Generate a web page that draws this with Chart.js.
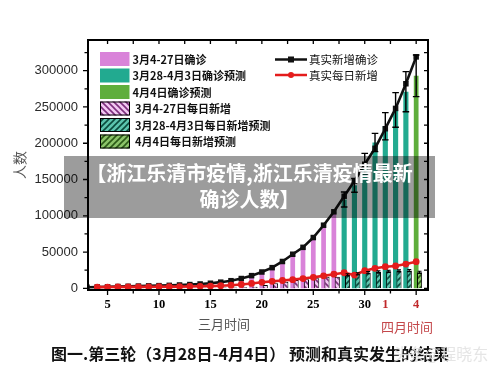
<!DOCTYPE html>
<html>
<head>
<meta charset="utf-8">
<title>第三轮预测和真实发生的结果</title>
<script src="https://cdn.jsdelivr.net/npm/chart.js@4.4.1/dist/chart.umd.min.js"></script>
<style>
  html, body { margin:0; padding:0; background:#fff; }
  #wrap { position:relative; width:500px; height:376px; overflow:hidden; background:#fff; }
  #c { position:absolute; left:0; top:0; }
  .txt { position:absolute; white-space:nowrap; font-family:"Noto Sans CJK SC","Noto Sans",sans-serif; }
  #banner { left:64px; top:156px; width:371px; height:62px; background:rgba(0,0,0,0.39); color:#fff; font-weight:700; font-size:20px; line-height:26px; text-align:center; padding-top:4px; box-sizing:border-box; }
  #xMar { left:198px; top:314px; font-size:13px; line-height:20px; color:#555; }
  #xApr { left:381px; top:317px; font-size:13px; line-height:20px; color:#c4474a; }
  #caption { left:0; width:500px; top:342px; text-align:center; font-size:16px; line-height:22px; font-weight:700; color:#111; }
  #mark { left:393px; top:342px; font-size:16px; line-height:22px; color:rgba(225,225,225,0.88); }
</style>
</head>
<body>
<div id="wrap">
  <canvas id="c" width="500" height="376"></canvas>
  <div class="txt" id="xMar">三月时间</div>
  <div class="txt" id="xApr">四月时间</div>
  <div class="txt" id="caption">图一.第三轮（3月28日-4月4日） 预测和真实发生的结果</div>
  <div class="txt" id="mark">头条@程晓东</div>
  <div class="txt" id="banner">【浙江乐清市疫情,浙江乐清疫情最新<br>确诊人数】</div>
</div>
<script>
// ---- data (x = day; March 3..31, then April 1..4 as 32..35) ----
const days = [3,4,5,6,7,8,9,10,11,12,13,14,15,16,17,18,19,20,21,22,23,24,25,26,27,28,29,30,31,32,33,34,35];
const realCumulative = [1500,1900,2200,2500,2800,3100,3400,3700,4100,4600,5200,6000,7000,8500,10500,13500,17500,22500,28500,37000,47000,56500,70000,87000,105500,127000,148000,171000,193000,220000,248000,282000,319000];
const realDaily = [null,1700,1800,1900,2000,2000,2100,2200,2300,2400,2600,2800,3100,3600,4300,5300,6700,8300,9600,10800,12000,13500,15200,17200,19500,21500,18300,24300,27600,29800,30800,33500,36700];
const confirmedMar = [null,1900,2200,2500,2800,3100,3400,3700,4100,4600,5200,6000,7000,8500,10500,13500,17500,22500,28500,37000,47000,56500,70000,87000,105500,null,null,null,null,null,null,null,null];
const predictedCum = [null,null,null,null,null,null,null,null,null,null,null,null,null,null,null,null,null,null,null,null,null,null,null,null,null,122500,142000,172000,201000,223400,245900,271100,null];
const predictedCumErr = [null,null,null,null,null,null,null,null,null,null,null,null,null,null,null,null,null,null,null,null,null,null,null,null,null,10300,9500,14000,12600,18800,23900,27600,null];
const predictedApr4 = [null,null,null,null,null,null,null,null,null,null,null,null,null,null,null,null,null,null,null,null,null,null,null,null,null,null,null,null,null,null,null,null,293000];
const predictedApr4Err = [null,null,null,null,null,null,null,null,null,null,null,null,null,null,null,null,null,null,null,null,null,null,null,null,null,null,null,null,null,null,null,null,28700];
const dailyMar = [null,200,200,250,300,300,350,400,450,500,600,700,800,1000,1200,1500,2200,4500,6900,9200,11400,12400,13800,16000,16000,null,null,null,null,null,null,null,null];
const dailyPred = [null,null,null,null,null,null,null,null,null,null,null,null,null,null,null,null,null,null,null,null,null,null,null,null,null,18500,20000,21500,22500,23500,24000,24500,null];
const dailyPredErr = [null,null,null,null,null,null,null,null,null,null,null,null,null,null,null,null,null,null,null,null,null,null,null,null,null,1500,1500,1500,1500,1500,1500,1500,null];
const dailyApr4 = [null,null,null,null,null,null,null,null,null,null,null,null,null,null,null,null,null,null,null,null,null,null,null,null,null,null,null,null,null,null,null,null,22000];
const dailyApr4Err = [null,null,null,null,null,null,null,null,null,null,null,null,null,null,null,null,null,null,null,null,null,null,null,null,null,null,null,null,null,null,null,null,1500];
const seriesNames = ['3月4-27日确诊','3月28-4月3日确诊预测','4月4日确诊预测','3月4-27日每日新增','3月28-4月3日每日新增预测','4月4日每日新增预测','真实新增确诊','真实每日新增'];
const xTickValues = [5,10,15,20,25,30,32,35];
const xTickLabels = ['5','10','15','20','25','30','1','4'];
const xTickMarks = [5,7.5,10,12.5,15,17.5,20,22.5,25,27.5,30,32.5,35];
const yTickValues = [0,50000,100000,150000,200000,250000,300000];
const yTickMarks = [0,25000,50000,75000,100000,125000,150000,175000,200000,225000,250000,275000,300000,325000];

// ---- styling ----
const X_MIN = 3.1, X_MAX = 36.15, HATCH_SHIFT = 0.33;
const Y_MIN = -2300, Y_MAX = 342300;
const PINK = '#d983d9', TEAL = '#22aa90', GREEN = '#5fae3c', BLACK = '#111111', RED = '#e41c1c';

const canvas = document.getElementById('c');
const mainCtx = canvas.getContext('2d');
function hatch(bg, fg, back) {
  const s = 6, c = document.createElement('canvas');
  c.width = s; c.height = s;
  const g = c.getContext('2d');
  g.fillStyle = bg; g.fillRect(0, 0, s, s);
  g.strokeStyle = fg; g.lineWidth = 1.6;
  g.beginPath();
  if (back) {
    g.moveTo(-1, -1); g.lineTo(s + 1, s + 1);
    g.moveTo(-1, s - 1); g.lineTo(1, s + 1);
    g.moveTo(s - 1, -1); g.lineTo(s + 1, 1);
  } else {
    g.moveTo(-1, s + 1); g.lineTo(s + 1, -1);
    g.moveTo(-1, 1); g.lineTo(1, -1);
    g.moveTo(s - 1, s + 1); g.lineTo(s + 1, s - 1);
  }
  g.stroke();
  return mainCtx.createPattern(c, 'repeat');
}
const PINK_HATCH = hatch('#f2c8f2', '#7d2f7d', true);
const TEAL_HATCH = hatch('#5cc4ae', '#0a4a3c', false);
const GREEN_HATCH = hatch('#8cc46a', '#2b5a17', false);

const errorBars = {
  id: 'errorBars',
  afterDatasetsDraw(chart) {
    const ctx = chart.ctx, ys = chart.scales.y;
    chart.data.datasets.forEach((ds, i) => {
      if (!ds.errors) return;
      const meta = chart.getDatasetMeta(i);
      meta.data.forEach((el, j) => {
        const v = ds.data[j], e = ds.errors[j];
        if (v == null || e == null) return;
        const x = el.x, y1 = ys.getPixelForValue(v + e), y2 = ys.getPixelForValue(v - e);
        const cap = ds.capHalf || 3;
        ctx.save();
        ctx.strokeStyle = '#000'; ctx.lineWidth = ds.errWidth || 1.4;
        ctx.beginPath();
        ctx.moveTo(x, y1); ctx.lineTo(x, y2);
        ctx.moveTo(x - cap, y1); ctx.lineTo(x + cap, y1);
        ctx.moveTo(x - cap, y2); ctx.lineTo(x + cap, y2);
        ctx.stroke();
        ctx.restore();
      });
    });
  }
};

const frame = {
  id: 'frame',
  afterDraw(chart) {
    const {ctx, chartArea: a, scales: {x, y}} = chart;
    ctx.save();
    ctx.strokeStyle = '#000';
    ctx.lineWidth = 2;
    ctx.strokeRect(a.left, a.top, a.right - a.left, a.bottom - a.top);
    ctx.lineWidth = 1.3;
    ctx.beginPath();
    yTickMarks.forEach(v => {
      const p = y.getPixelForValue(v);
      const L = (v % 50000 === 0) ? 5 : 3.5;
      ctx.moveTo(a.left - L, p); ctx.lineTo(a.left, p);
      ctx.moveTo(a.right, p); ctx.lineTo(a.right - 4, p);
    });
    xTickMarks.forEach(v => {
      const p = x.getPixelForValue(v);
      const L = (v % 5 === 0) ? 5 : 3.5;
      ctx.moveTo(p, a.bottom); ctx.lineTo(p, a.bottom + L);
      ctx.moveTo(p, a.top); ctx.lineTo(p, a.top + 4);
    });
    ctx.stroke();
    ctx.restore();
  }
};

const boxLegend = {
  id: 'boxLegend',
  afterDraw(chart) {
    const ctx = chart.ctx, ds = chart.data.datasets;
    const rowsY = [59, 75.5, 92, 108.5, 125, 141.5];
    const leftOrder = [2, 3, 4, 5, 6, 7];
    ctx.save();
    leftOrder.forEach((di, r) => {
      const d = ds[di], y = rowsY[r];
      ctx.fillStyle = d.backgroundColor;
      ctx.fillRect(100, y - 7, 29.5, 14);
      if (r >= 3) {
        ctx.strokeStyle = '#000'; ctx.lineWidth = 1;
        ctx.strokeRect(100.5, y - 6.5, 29, 13);
      }
      ctx.fillStyle = '#111';
      ctx.font = 'bold 11px "Noto Sans CJK SC", sans-serif';
      ctx.textBaseline = 'middle'; ctx.textAlign = 'left';
      ctx.fillText(d.label, r >= 3 ? 135 : 132.5, y + 0.5);
    });
    [0, 1].forEach((di, r) => {
      const d = ds[di], y = r === 0 ? 59.5 : 75;
      ctx.strokeStyle = d.borderColor; ctx.lineWidth = 2.5;
      ctx.beginPath(); ctx.moveTo(275, y); ctx.lineTo(307, y); ctx.stroke();
      ctx.fillStyle = d.borderColor;
      if (r === 0) { ctx.fillRect(288, y - 3, 6, 6); }
      else { ctx.beginPath(); ctx.arc(291, y, 3, 0, Math.PI * 2); ctx.fill(); }
      ctx.fillStyle = '#111';
      ctx.font = '11.5px "Noto Sans CJK SC", sans-serif';
      ctx.textBaseline = 'middle'; ctx.textAlign = 'left';
      ctx.fillText(d.label, 309, y + 0.5);
    });
    ctx.restore();
  }
};

new Chart(canvas, {
  data: {
    labels: days,
    datasets: [
      { type: 'line', label: seriesNames[6], data: realCumulative, borderColor: BLACK, backgroundColor: BLACK,
        borderWidth: 2.6, pointStyle: 'rect', pointRadius: 3.9, pointBackgroundColor: BLACK, pointBorderWidth: 0, tension: 0, order: 1 },
      { type: 'line', label: seriesNames[7], data: realDaily, borderColor: RED, backgroundColor: RED,
        borderWidth: 2.6, pointStyle: 'circle', pointRadius: 3.4, pointBackgroundColor: RED, pointBorderWidth: 0, tension: 0, order: 0 },
      { type: 'bar', label: seriesNames[0], data: confirmedMar, backgroundColor: PINK, grouped: false,
        barPercentage: 0.46, categoryPercentage: 1, order: 10 },
      { type: 'bar', label: seriesNames[1], data: predictedCum, errors: predictedCumErr, capHalf: 3.3, backgroundColor: TEAL, grouped: false,
        barPercentage: 0.5, categoryPercentage: 1, order: 10 },
      { type: 'bar', label: seriesNames[2], data: predictedApr4, errors: predictedApr4Err, capHalf: 3.3, backgroundColor: GREEN, grouped: false,
        barPercentage: 0.46, categoryPercentage: 1, order: 10 },
      { type: 'bar', label: seriesNames[3], data: dailyMar, backgroundColor: PINK_HATCH, borderColor: '#000', borderWidth: 1, grouped: false,
        barPercentage: 0.5, categoryPercentage: 1, xAxisID: 'x2', order: 5 },
      { type: 'bar', label: seriesNames[4], data: dailyPred, errors: dailyPredErr, capHalf: 2, errWidth: 1.1, backgroundColor: TEAL_HATCH, borderColor: '#000', borderWidth: 1, grouped: false,
        barPercentage: 0.5, categoryPercentage: 1, xAxisID: 'x2', order: 5 },
      { type: 'bar', label: seriesNames[5], data: dailyApr4, errors: dailyApr4Err, capHalf: 2, errWidth: 1.1, backgroundColor: GREEN_HATCH, borderColor: '#000', borderWidth: 1, grouped: false,
        barPercentage: 0.5, categoryPercentage: 1, xAxisID: 'x2', order: 5 }
    ]
  },
  options: {
    responsive: false,
    devicePixelRatio: 1,
    animation: false,
    layout: { padding: { left: 0, right: 72, top: 40, bottom: 0 } },
    plugins: { legend: { display: false }, tooltip: { enabled: false } },
    scales: {
      x: {
        type: 'linear', position: 'bottom', min: X_MIN, max: X_MAX, offset: false,
        afterBuildTicks: s => { s.ticks = xTickValues.map(v => ({ value: v })); },
        afterFit: s => { s.height = 86; },
        grid: { display: false, drawTicks: false, offset: false }, border: { display: false },
        ticks: {
          autoSkip: false, maxRotation: 0, padding: 7,
          callback: v => xTickLabels[xTickValues.indexOf(v)],
          color: c => (c.tick && c.tick.value >= 32) ? '#c0282a' : '#000',
          font: { family: '"Liberation Serif", serif', weight: 'bold', size: 12.5 }
        }
      },
      x2: { type: 'linear', display: false, offset: false, grid: { offset: false }, min: X_MIN - HATCH_SHIFT, max: X_MAX - HATCH_SHIFT },
      y: {
        type: 'linear', position: 'left', min: Y_MIN, max: Y_MAX, stacked: false,
        afterBuildTicks: s => { s.ticks = yTickValues.map(v => ({ value: v })); },
        afterFit: s => { s.width = 88; },
        grid: { display: false, drawTicks: false }, border: { display: false },
        ticks: {
          padding: 10, color: '#2a2a2a', callback: v => String(v),
          font: { family: '"Liberation Sans", Arial, sans-serif', size: 13 }
        },
        title: {
          display: true, text: '人数', color: '#555', padding: { top: 11.5, bottom: 0 },
          font: { family: '"Noto Sans CJK SC", sans-serif', size: 14 }
        }
      }
    }
  },
  plugins: [errorBars, frame, boxLegend]
});
</script>
</body>
</html>
